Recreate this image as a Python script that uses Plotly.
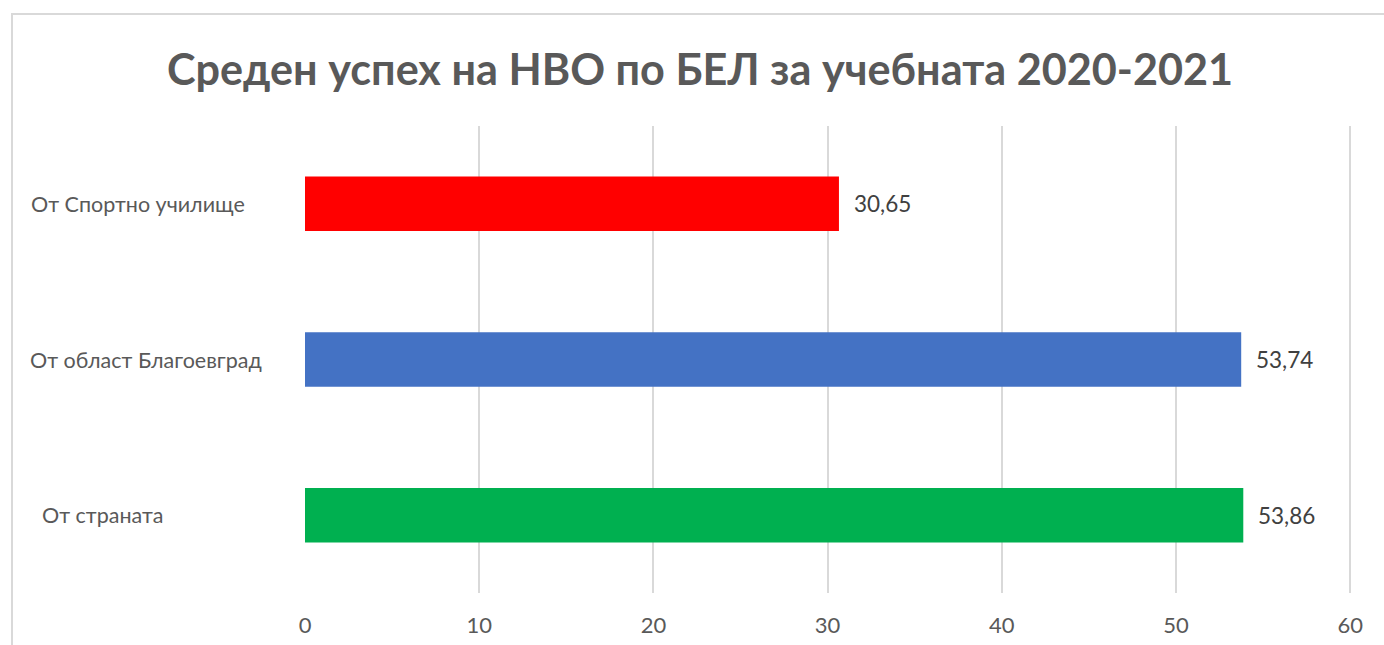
import plotly.graph_objects as go

categories = ["От Спортно училище", "От област Благоевград", "От страната"]
values = [30.65, 53.74, 53.86]
value_labels = ["30,65", "53,74", "53,86"]
bar_colors = ["#FF0000", "#4472C4", "#00B050"]
tick_vals = [0, 10, 20, 30, 40, 50, 60]
title_text = "Среден успех на НВО по БЕЛ за учебната 2020-2021"

W, H = 1384, 645
XMAX = 60.1
L, T, B = 305, 126, 52
pw = round(1045 * XMAX / 60)
R = W - L - pw
ph = H - T - B

# category label centers (px)
label_centers = [138, 146, 102]

fig = go.Figure()
fig.add_trace(go.Bar(
    y=categories, x=values, orientation="h",
    marker=dict(color=bar_colors, line=dict(width=0)),
    width=0.35, hoverinfo="skip",
))

annotations = []
for c, v, t in zip(categories, values, value_labels):
    annotations.append(dict(x=v, y=c, xref="x", yref="y", text=t, showarrow=False,
                            xanchor="left", xshift=13,
                            font=dict(family="Lato", size=22.5, color="#404040")))
for c, cx in zip(categories, label_centers):
    annotations.append(dict(x=(cx - L) / pw, y=c, xref="paper", yref="y", text=c,
                            showarrow=False, xanchor="center",
                            font=dict(family="Lato", size=21.5, color="#595959")))
annotations.append(dict(x=(700 - L) / pw, y=(H - 68 - B) / ph,
                        xref="paper", yref="paper",
                        text="<b>" + title_text + "</b>", showarrow=False,
                        xanchor="center", yanchor="middle",
                        font=dict(family="Lato", size=43.2, color="#595959")))

fig.update_layout(
    width=W, height=H,
    margin=dict(l=L, r=R, t=T, b=B, autoexpand=False),
    paper_bgcolor="white", plot_bgcolor="white",
    showlegend=False,
    annotations=annotations,
    shapes=[dict(type="rect", xref="paper", yref="paper",
                 x0=(12 - L) / pw, x1=(W + 20 - L) / pw,
                 y0=(-20 - B) / ph, y1=(H - 14 - B) / ph,
                 line=dict(color="#D9D9D9", width=2), fillcolor="rgba(0,0,0,0)",
                 layer="below")],
    xaxis=dict(range=[0, XMAX], tickvals=tick_vals, showgrid=True, gridcolor="#D9D9D9",
               gridwidth=2, zeroline=False, showline=False, automargin=False,
               ticks="", ticklabelstandoff=17,
               tickfont=dict(family="Lato", size=22, color="#595959")),
    yaxis=dict(categoryorder="array", categoryarray=categories[::-1], automargin=False,
               showticklabels=False, showgrid=False, zeroline=False, showline=False),
    bargap=0.65,
)

fig.write_html("out.html", config={"displayModeBar": False},
               post_script="document.body.style.margin='0';document.body.style.overflow='hidden';")
